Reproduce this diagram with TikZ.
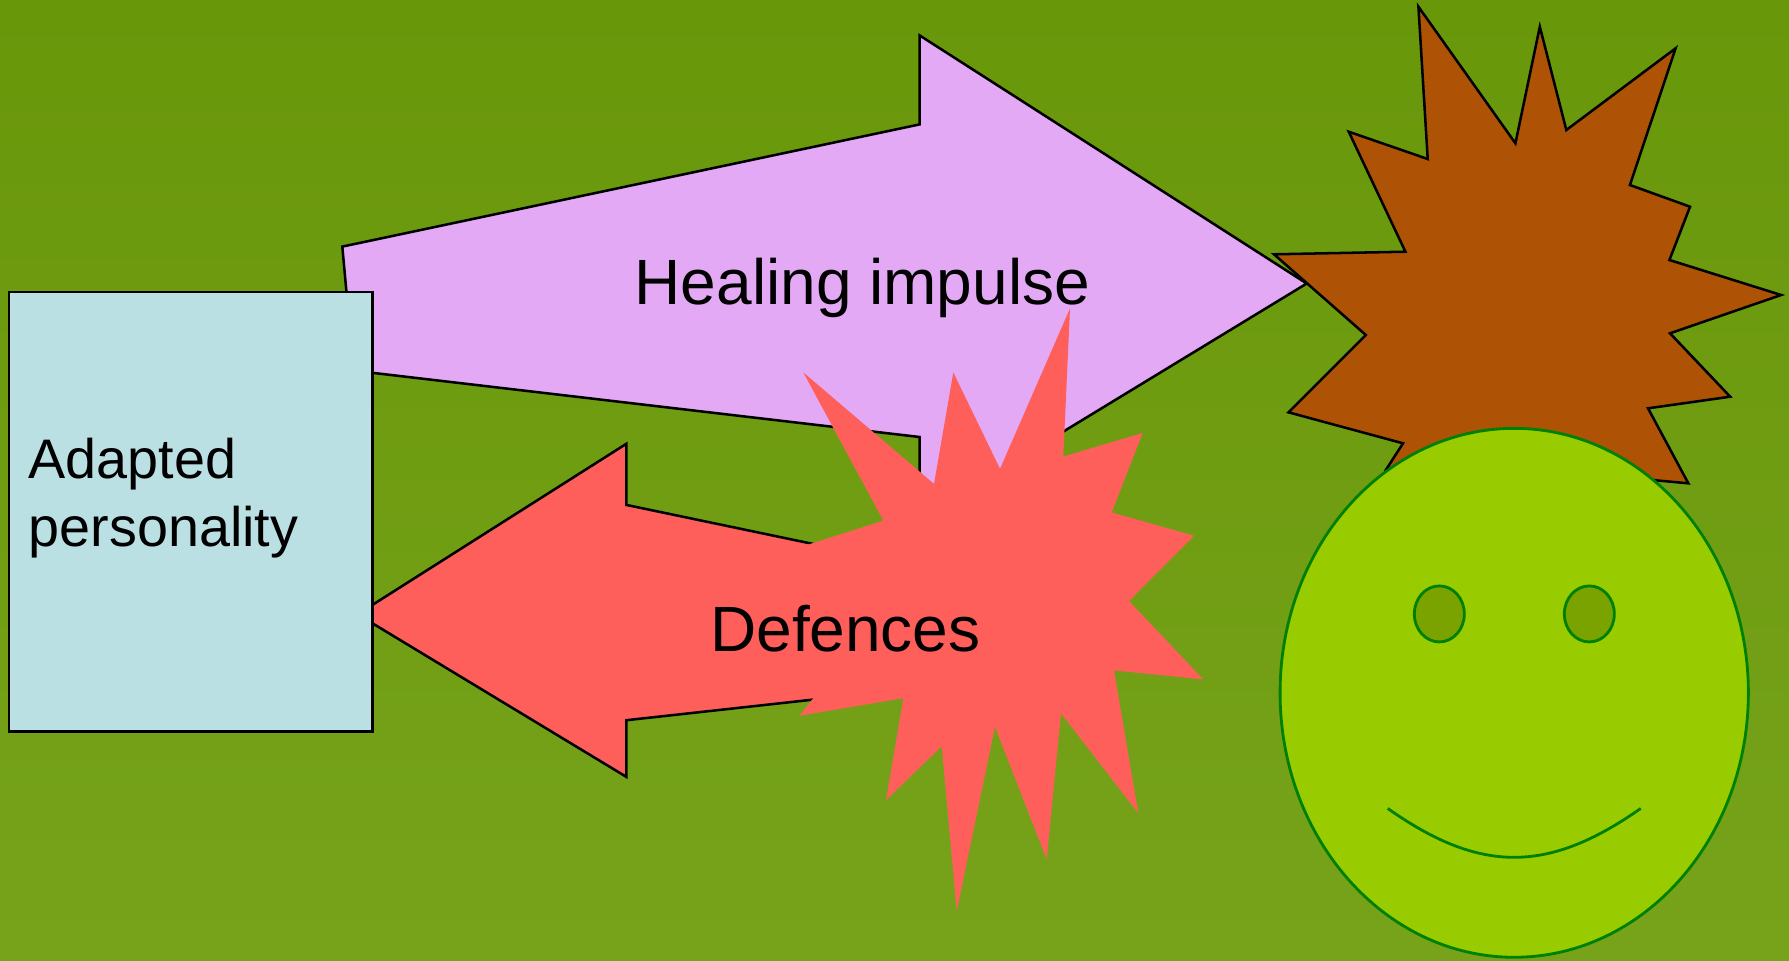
\documentclass[tikz,border=0pt]{standalone}
\usepackage{fontspec}
\setmainfont{Liberation Sans}
\usepackage{xcolor}
\usepackage{tikz}
\usetikzlibrary{positioning, shapes.geometric}
\definecolor{bgtop}{HTML}{69970A}
\definecolor{bgbottom}{HTML}{76A31A}
\definecolor{impulse}{HTML}{E3A9F4}
\definecolor{defence}{HTML}{FF5F5B}
\definecolor{rust}{HTML}{AE5205}
\definecolor{persona}{HTML}{BBE0E3}
\definecolor{smiley}{HTML}{99CC00}
\definecolor{smileyeye}{HTML}{7AA300}
\definecolor{smileyline}{HTML}{008000}

\begin{document}
\begin{tikzpicture}[
	x=0.01cm, y=-0.01cm,
	outline/.style={draw=black, line width=0.72pt, miter limit=20},
	persbox/.style={outline, fill=persona, minimum width=3.632cm, minimum height=4.393cm, inner sep=0pt},
	perstag/.style={inner sep=0pt, anchor=west, align=left, font=\fontsize{15.85}{19.26}\selectfont},
	tag/.style={inner sep=0pt, anchor=base west, font=\fontsize{18.2}{21}\selectfont},
	facepart/.style={ellipse, draw=smileyline, line width=0.8pt, inner sep=0pt},
	face/.style={facepart, fill=smiley, minimum width=4.68cm, minimum height=5.286cm},
	eye/.style={facepart, fill=smileyeye, minimum width=0.5cm, minimum height=0.56cm}
	]
	
	% Background
	\shade[top color=bgtop, bottom color=bgbottom] (0,0) rectangle (1789,960);
	
	% Arrows
	\draw[outline, fill=impulse] (919.6,35.4) -- (919.6,124.4) -- (342.3,246.6) -- (353.7,370.6)
	-- (919.6,437) -- (919.6,519) -- (1306.7,283.5) -- cycle;
	\draw[outline, fill=defence] (357.6,614.3) -- (626.3,443.8) -- (626.3,504.9) -- (1000,583)
	-- (1000,679) -- (626.3,720.2) -- (626.3,776.8) -- cycle;
	
	% Bursts
	\fill[defence] (1070,308.4) -- (1063.3,456.5) -- (1142.7,432.9) -- (1111.7,512.4) -- (1194,535.7)
	-- (1129,601) -- (1203.3,679.4) -- (1114,670.4) -- (1138.3,813.3) -- (1061,713.3) -- (1046.7,859.4)
	-- (995,726.7) -- (956.7,911.2) -- (941.7,746.3) -- (886,800.2) -- (903.3,698.2) -- (799.3,715.7)
	-- (850,652) -- (790,550.4) -- (883.3,520.6) -- (803.3,372.4) -- (934,483.9) -- (953.3,372.4)
	-- (1000,468.8) -- cycle;
	\draw[outline, fill=rust] (1418.4,6.7) -- (1515.4,143.3) -- (1539.8,26.7) -- (1566.3,130)
	-- (1675.6,48.3) -- (1629.9,185) -- (1690,206.7) -- (1669.4,260) -- (1781.1,295) -- (1670,333.3)
	-- (1730.2,396.7) -- (1648,408.3) -- (1688.3,483.3) -- (1652.2,480) -- (1520,520) -- (1385.8,470)
	-- (1403,443.3) -- (1288.5,412.3) -- (1365.8,335) -- (1274,254.3) -- (1405.4,251.7) -- (1348.7,131.7)
	-- (1427.7,159) -- cycle;
	
	% Box and face
	\node[persbox] (pers) at (190.9,511.6) {};
	\node[perstag] (perstext) at (28,497.9) {Adapted\\personality};
	\node[face] (head) at (1514.2,692.8) {};
	\node[eye] (eyeleft) at (1439.3,613.9) {};
	\node[eye] (eyeright) at (1589.3,613.9) {};
	\draw[smileyline, line width=0.8pt] (1387.7,808.4) .. controls (1480,873.6) and (1548,873.6) .. (1640.7,808.4);
	
	% Labels
	\node[tag] (heal) at (634,304) {Healing impulse};
	\node[tag] (def) at (709.5,651) {Defences};
	
\end{tikzpicture}
\end{document}
